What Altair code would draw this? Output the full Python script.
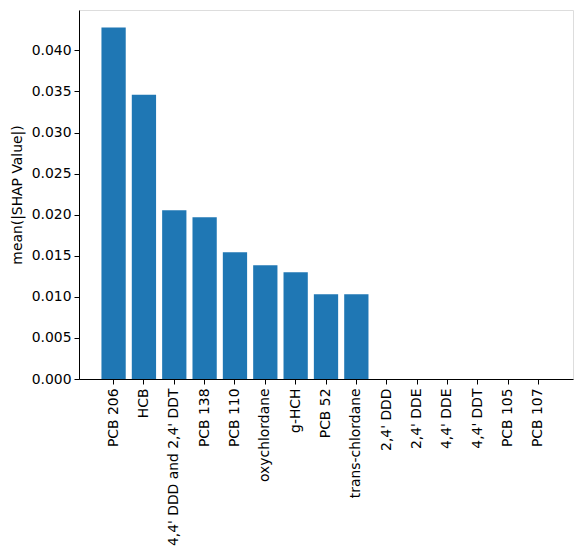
import altair as alt
import pandas as pd

features = ["PCB 206", "HCB", "4,4' DDD and 2,4' DDT", "PCB 138", "PCB 110",
            "oxychlordane", "g-HCH", "PCB 52", "trans-chlordane", "2,4' DDD",
            "2,4' DDE", "4,4' DDE", "4,4' DDT", "PCB 105", "PCB 107"]
values = [0.0428, 0.0346, 0.02055, 0.0197, 0.01544, 0.01386, 0.0130, 0.01033, 0.01033,
          0.0, 0.0, 0.0, 0.0, 0.0, 0.0]
y_ticks = [0.0, 0.005, 0.010, 0.015, 0.020, 0.025, 0.030, 0.035, 0.040]

df = pd.DataFrame({"feature": features, "value": values})

FONT = "DejaVu Sans"
FS = 13.9

chart = alt.Chart(df).mark_bar(color="#1f77b4").encode(
    x=alt.X("feature:N", sort=features,
            scale=alt.Scale(paddingInner=0.2, paddingOuter=0.74),
            axis=alt.Axis(title=None, labelAngle=270, labelAlign="right",
                          labelBaseline="middle", labelFont=FONT, labelFontSize=FS,
                          labelColor="black", tickColor="black", domainColor="black",
                          tickSize=5, labelPadding=4, grid=False, labelOverlap=False)),
    y=alt.Y("value:Q", scale=alt.Scale(domain=[0, 0.04492], nice=False),
            axis=alt.Axis(title="mean(|SHAP Value|)", values=y_ticks, format=".3f",
                          labelFont=FONT, labelFontSize=FS, labelColor="black",
                          titleFont=FONT, titleFontSize=FS, titleFontWeight="normal",
                          titleColor="black", tickColor="black", domainColor="black",
                          tickSize=5, labelPadding=3, titlePadding=7, grid=False)),
).properties(
    width=494, height=369,
    autosize="none",
    padding={"left": 79, "top": 10, "right": 12, "bottom": 177},
).configure_view(stroke="black", strokeWidth=1).configure(background="white")

chart.save("out.html", embed_options={"renderer": "svg", "actions": False})
